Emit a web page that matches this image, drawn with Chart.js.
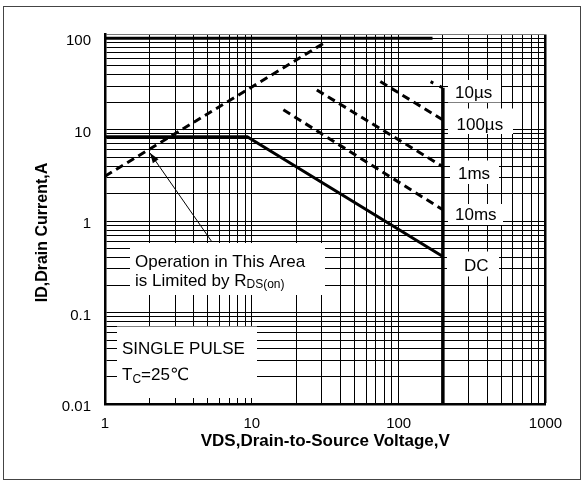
<!DOCTYPE html>
<html><head><meta charset="utf-8">
<script src="https://cdn.jsdelivr.net/npm/chart.js@4.4.0/dist/chart.umd.min.js"></script>
<style>html,body{margin:0;padding:0;background:#fff;}canvas{display:block;}</style>
</head><body>
<canvas id="c" width="584" height="482"></canvas>
<script>
// ---- axis ticks ----
const xTickLabels = [1, 10, 100, 1000];
const yTickLabels = [0.01, 0.1, 1, 10, 100];

// ---- series (VDS in V, ID in A) ----
const limitVds = [1, 170];      const limitId = [100, 100];
const rdsVds   = [1, 31.5];     const rdsId   = [3.1, 90];
const dcVds    = [1, 9.3, 200]; const dcId    = [8.4, 8.4, 0.41];
const bvVds    = [200, 200];    const bvId    = [28.7, 0.01];
const us10Vds  = [165, 200];    const us10Id  = [33.5, 28.7];
const us100Vds = [75, 200];     const us100Id = [33.6, 12.8];
const ms1Vds   = [27.7, 200];   const ms1Id   = [27.2, 3.94];
const ms10Vds  = [16.4, 200];   const ms10Id  = [16.5, 1.33];

const FONT = "'Liberation Sans', Arial, 'DejaVu Sans', 'Noto Sans CJK SC', sans-serif";
const Y_TITLE = 'ID,Drain Current,A';

function pts(v, i){ return v.map((x,k)=>({x:x, y:i[k]})); }
function solid(v,i,w){ return {data:pts(v,i), borderColor:'#000', borderWidth:w, pointRadius:0, fill:false, tension:0}; }
function dashed(v,i,w,d){ const s=solid(v,i,w); s.borderDash=d; return s; }

function gridValues(min, max){
  const out=[];
  for(let e=Math.floor(Math.log10(min)); e<=Math.ceil(Math.log10(max)); e++){
    for(let m=1;m<=9;m++){
      const v = +(m*Math.pow(10,e)).toPrecision(3);
      if(v>=min*0.999 && v<=max*1.001) out.push(v);
    }
  }
  return out;
}

// annotation boxes, relative to chart area (px)
const labelBoxes = [
  {x0:25, y0:208.5, x1:220, y1:260.5},
  {x0:12, y0:292, x1:152, y1:363.5},
  {x0:343, y0:45.5, x1:396, y1:68},
  {x0:343, y0:74, x1:408, y1:99.5},
  {x0:345, y0:126, x1:394, y1:149.5},
  {x0:343, y0:169.5, x1:398, y1:190.5},
  {x0:342, y0:217, x1:394, y1:242}
];
const pulseLabels = [
  {t:'10\u00b5s', x:350, y:58.7},
  {t:'100\u00b5s', x:351.5, y:90.5},
  {t:'1ms', x:353, y:139.5},
  {t:'10ms', x:350, y:180.5},
  {t:'DC', x:359, y:231.5}
];

const annot = {
  id:'annot',
  beforeDatasetsDraw(chart){
    const {ctx, chartArea:a} = chart;
    ctx.save();
    ctx.fillStyle='#fff';
    labelBoxes.forEach(b=>ctx.fillRect(a.left+b.x0, a.top+b.y0, b.x1-b.x0, b.y1-b.y0));
    ctx.fillStyle='#000';
    ctx.textBaseline='middle';
    ctx.textAlign='left';
    ctx.font = '17px '+FONT;
    pulseLabels.forEach(l=>ctx.fillText(l.t, a.left+l.x, a.top+l.y));
    // Operation text
    let x = a.left+30, y1 = a.top+228.2, y2 = a.top+246.5;
    ctx.fillText('Operation in This Area', x, y1);
    const s1 = 'is Limited by R';
    ctx.fillText(s1, x, y2);
    let w = ctx.measureText(s1).width;
    ctx.font = '12px '+FONT;
    ctx.fillText('DS(on)', x+w, y2+4);
    // single pulse
    ctx.font = '17px '+FONT;
    x = a.left+17;
    ctx.fillText('SINGLE PULSE', x, a.top+314.5);
    ctx.fillText('T', x, a.top+341.2);
    w = ctx.measureText('T').width;
    ctx.font = '12px '+FONT;
    ctx.fillText('C', x+w, a.top+345.2);
    const w2 = ctx.measureText('C').width;
    ctx.font = '17px '+FONT;
    ctx.fillText('=25\u2103', x+w+w2, a.top+341.2);
    ctx.restore();
  },
  afterDatasetsDraw(chart){
    const {ctx, chartArea:a} = chart;
    const x0=a.left+107, y0=a.top+207.5, x1=a.left+45, y1=a.top+118.5;
    ctx.save();
    ctx.strokeStyle='#000'; ctx.fillStyle='#000'; ctx.lineWidth=1;
    ctx.beginPath(); ctx.moveTo(x0,y0); ctx.lineTo(x1,y1); ctx.stroke();
    const ang = Math.atan2(y1-y0, x1-x0), L=10, H=3.5;
    ctx.beginPath();
    ctx.moveTo(x1,y1);
    ctx.lineTo(x1-L*Math.cos(ang)+H*Math.sin(ang), y1-L*Math.sin(ang)-H*Math.cos(ang));
    ctx.lineTo(x1-L*Math.cos(ang)-H*Math.sin(ang), y1-L*Math.sin(ang)+H*Math.cos(ang));
    ctx.closePath(); ctx.fill();
    ctx.restore();
  },
  afterDraw(chart){
    const {ctx, chartArea:a} = chart;
    ctx.save();
    // y axis title
    ctx.translate(43, a.top + 198);
    ctx.rotate(-Math.PI/2);
    ctx.fillStyle='#000';
    ctx.textAlign='center'; ctx.textBaseline='middle';
    ctx.font = 'bold 16px '+FONT;
    ctx.fillText(Y_TITLE, 0, 0);
    ctx.restore();
    ctx.save();
    ctx.strokeStyle='#444'; ctx.lineWidth=1;
    ctx.strokeRect(3.5, 6.5, 577, 473);
    ctx.restore();
  }
};

new Chart(document.getElementById('c'), {
  type:'line',
  data:{datasets:[
    solid(limitVds, limitId, 3),
    dashed(rdsVds, rdsId, 3, [8,5]),
    solid(dcVds, dcId, 3),
    solid(bvVds, bvId, 3.5),
    dashed(us10Vds, us10Id, 3, [3,7]),
    dashed(us100Vds, us100Id, 3, [8,5]),
    dashed(ms1Vds, ms1Id, 3, [8,5]),
    dashed(ms10Vds, ms10Id, 3, [8,5])
  ]},
  options:{
    responsive:false, animation:false, devicePixelRatio:1,
    layout:{padding:{left:0, right:38.5, top:34.5, bottom:0}},
    plugins:{legend:{display:false}, tooltip:{enabled:false}},
    scales:{
      x:{type:'logarithmic', min:1, max:1000,
        afterBuildTicks:s=>{ s.ticks = gridValues(1,1000).map(v=>({value:v})); },
        afterFit:s=>{ s.height = 78; },
        ticks:{autoSkip:false, maxRotation:0, color:'#000', padding:11,
          font:{family:FONT, size:15},
          callback:v=> xTickLabels.includes(v) ? String(v) : ''},
        grid:{color:'#000', drawTicks:false, lineWidth:c=> (c.tick && c.tick.value===1000) ? 2.5 : 1},
        border:{display:true, color:'#000', width:2.5},
        title:{display:true, text:'VDS,Drain-to-Source Voltage,V', color:'#000',
          font:{family:FONT, size:17, weight:'bold'}, padding:{top:0, bottom:30}}
      },
      y:{type:'logarithmic', min:0.01, max:110,
        afterBuildTicks:s=>{ s.ticks = gridValues(0.01,100).concat([110]).map(v=>({value:v})); },
        afterFit:s=>{ s.width = 105; },
        ticks:{autoSkip:false, color:'#000', padding:14, labelOffset:3,
          font:{family:FONT, size:15},
          callback:v=> yTickLabels.includes(v) ? String(v) : ''},
        grid:{drawTicks:false, color:c=> (c.tick && c.tick.value===110) ? '#777' : '#000', lineWidth:1},
        border:{display:true, color:'#000', width:2.5},
        title:{display:false}
      }
    }
  },
  plugins:[annot]
});
</script>
</body></html>
